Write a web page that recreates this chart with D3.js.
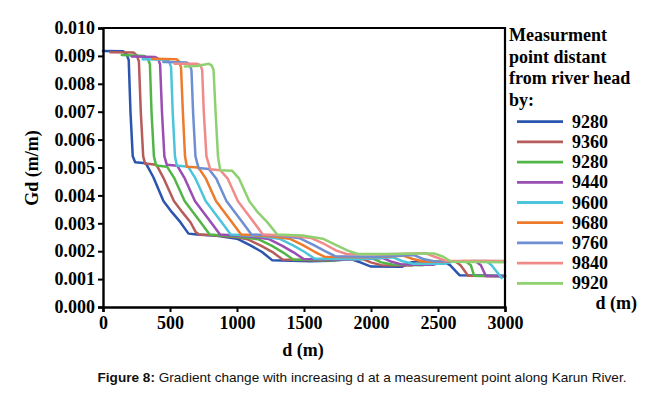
<!DOCTYPE html>
<html>
<head>
<meta charset="utf-8">
<script src="https://cdn.jsdelivr.net/npm/d3@7"></script>
<style>
  body { margin: 0; background: #fff; }
  svg { display: block; }
</style>
</head>
<body>
<div id="chart"></div>
<script>
// tick labels
var xTicks = [0, 500, 1000, 1500, 2000, 2500, 3000];
var yTicks = [0, 0.001, 0.002, 0.003, 0.004, 0.005, 0.006, 0.007, 0.008, 0.009, 0.010];

// legend names, in the order shown
var seriesNames = ["9280", "9360", "9280", "9440", "9600", "9680", "9760", "9840", "9920"];
var seriesColors = ["#2b55ae", "#b65c5b", "#52b647", "#9a4db3", "#4cc4dc", "#ee7a2b", "#6f8fd3", "#f08b89", "#8fd071"];

// [d (m), Gd (m/m)]
var s9280a = [[0,0.00918],[150,0.00917],[177,0.00905],[192,0.00885],[205,0.0070],[222,0.0054],[240,0.00519],[320,0.00515],[376,0.00465],[451,0.0038],[514,0.0034],[576,0.00305],[638,0.00263],[700,0.0026],[850,0.00255],[1000,0.00245],[1100,0.00221],[1187,0.00197],[1262,0.00168],[1550,0.00164],[1700,0.00166],[1850,0.00172],[1920,0.0016],[2000,0.00145],[2230,0.00144],[2300,0.0016],[2550,0.00161],[2590,0.0015],[2660,0.00114],[3000,0.00112]];
var s9360 = [[55,0.00913],[230,0.00912],[252,0.00902],[268,0.0088],[282,0.0070],[300,0.0054],[314,0.00514],[398,0.0051],[454,0.0046],[529,0.0038],[592,0.0034],[654,0.00303],[690,0.0027],[716,0.0026],[850,0.00256],[1000,0.0025],[1078,0.00243],[1178,0.0022],[1265,0.00197],[1340,0.0017],[1628,0.00167],[1778,0.0017],[1928,0.00174],[1998,0.0016],[2078,0.0015],[2308,0.00149],[2378,0.00164],[2628,0.00164],[2668,0.0015],[2725,0.00112],[3000,0.0011]];
var s9280b = [[140,0.00903],[310,0.009],[335,0.0089],[350,0.0087],[362,0.0070],[380,0.0054],[396,0.00507],[478,0.00503],[534,0.0046],[609,0.0038],[672,0.0034],[734,0.003],[796,0.0026],[1008,0.00252],[1158,0.00243],[1258,0.0022],[1345,0.00195],[1420,0.0017],[1708,0.00168],[1858,0.0017],[2008,0.00174],[2078,0.0016],[2158,0.00152],[2388,0.0015],[2458,0.00163],[2708,0.00163],[2745,0.0015],[2770,0.00112],[3000,0.0011]];
var s9440 = [[215,0.00898],[390,0.00896],[411,0.0089],[426,0.0087],[440,0.0070],[458,0.0054],[476,0.0051],[555,0.00506],[611,0.0046],[686,0.0038],[749,0.0034],[811,0.003],[873,0.0026],[1085,0.00253],[1235,0.00244],[1335,0.0022],[1422,0.00196],[1497,0.00172],[1785,0.00169],[1935,0.00172],[2085,0.00176],[2155,0.00162],[2235,0.00152],[2465,0.00151],[2535,0.00162],[2785,0.00162],[2820,0.0015],[2857,0.00111],[3000,0.0011]];
var s9600 = [[295,0.00888],[470,0.00886],[494,0.0088],[508,0.0086],[520,0.0070],[537,0.0054],[551,0.00507],[635,0.00503],[691,0.0046],[766,0.0038],[829,0.0034],[891,0.003],[953,0.0026],[1165,0.00254],[1315,0.00245],[1415,0.00222],[1502,0.00198],[1577,0.00174],[1865,0.00171],[2015,0.00174],[2165,0.00178],[2235,0.00164],[2315,0.00155],[2545,0.00155],[2615,0.00163],[2865,0.00163],[2900,0.0015],[2975,0.00104]];
var s9680 = [[370,0.0089],[548,0.00888],[568,0.0088],[582,0.0086],[596,0.0070],[612,0.0054],[626,0.00503],[712,0.005],[768,0.0046],[843,0.0038],[906,0.0034],[968,0.003],[1030,0.0026],[1242,0.00254],[1392,0.00245],[1492,0.00222],[1579,0.00198],[1654,0.0018],[1942,0.00178],[2092,0.0018],[2242,0.00184],[2312,0.00172],[2392,0.00163],[2622,0.00162],[2692,0.00165],[3000,0.00163]];
var s9760 = [[450,0.00878],[625,0.00876],[645,0.0087],[660,0.0085],[672,0.0070],[690,0.0054],[713,0.00498],[790,0.00495],[846,0.0046],[921,0.0038],[984,0.0034],[1046,0.003],[1108,0.0026],[1320,0.00255],[1470,0.00246],[1570,0.00223],[1657,0.002],[1732,0.00182],[2020,0.0018],[2170,0.00183],[2320,0.00186],[2390,0.00172],[2470,0.00164],[2700,0.00163],[2770,0.00165],[3000,0.00163]];
var s9840 = [[535,0.00872],[700,0.00872],[725,0.00868],[740,0.0085],[752,0.0070],[772,0.0054],[800,0.00494],[875,0.0049],[931,0.0046],[1006,0.0038],[1069,0.0034],[1131,0.003],[1193,0.0026],[1405,0.00255],[1555,0.00247],[1655,0.00225],[1742,0.00202],[1817,0.0019],[2105,0.00189],[2255,0.00191],[2405,0.00193],[2475,0.0018],[2555,0.00166],[2785,0.00165],[2855,0.00166],[3000,0.00165]];
var s9920 = [[610,0.00862],[700,0.00864],[790,0.00872],[812,0.00865],[825,0.0085],[840,0.0070],[858,0.0054],[875,0.0049],[965,0.00488],[1016,0.0046],[1091,0.0038],[1154,0.0034],[1224,0.00305],[1300,0.0026],[1490,0.00256],[1640,0.00245],[1740,0.00222],[1827,0.00202],[1902,0.0019],[2190,0.0019],[2340,0.00192],[2470,0.00192],[2540,0.0018],[2600,0.00162],[3000,0.0016]];

var seriesData = [s9280a, s9360, s9280b, s9440, s9600, s9680, s9760, s9840, s9920];

// svg sizes
var width = 651, height = 394;
var plot = {left: 103, right: 505, top: 28, bottom: 307};
var serif = "'Times New Roman', 'Liberation Serif', serif";

var svg = d3.select("#chart").append("svg")
    .attr("width", width)
    .attr("height", height);

var x = d3.scaleLinear().domain([0, 3000]).range([plot.left, plot.right]);
var y = d3.scaleLinear().domain([0, 0.010]).range([plot.bottom, plot.top]);

// lines
var line = d3.line()
    .x(function(p) { return x(p[0]); })
    .y(function(p) { return y(p[1]); });

svg.append("g").selectAll("path")
    .data(seriesData)
    .enter().append("path")
    .attr("d", line)
    .attr("fill", "none")
    .attr("stroke", function(d, i) { return seriesColors[i]; })
    .attr("stroke-width", 2.5)
    .attr("stroke-linejoin", "round")
    .attr("stroke-linecap", "round");

// frame on top and right
svg.append("path")
    .attr("d", "M" + plot.left + "," + plot.top + "H" + plot.right + "V" + plot.bottom)
    .attr("fill", "none")
    .attr("stroke", "#000")
    .attr("stroke-width", 2.2);

// axes
var xAxis = svg.append("g")
    .attr("transform", "translate(0," + plot.bottom + ")")
    .call(d3.axisBottom(x).tickValues(xTicks).tickSize(5).tickPadding(4).tickFormat(d3.format("d")));
var yAxis = svg.append("g")
    .attr("transform", "translate(" + plot.left + ",0)")
    .call(d3.axisLeft(y).tickValues(yTicks).tickSize(5).tickPadding(3).tickFormat(d3.format(".3f")));

[xAxis, yAxis].forEach(function(ax) {
    ax.select(".domain").attr("stroke-width", 2.4).attr("stroke", "#000");
    ax.selectAll(".tick line").attr("stroke-width", 2).attr("stroke", "#000");
    ax.selectAll(".tick text")
        .attr("font-family", serif)
        .attr("font-weight", "bold")
        .attr("font-size", 18)
        .attr("fill", "#000");
});

// axis titles
svg.append("text")
    .attr("x", 303).attr("y", 356)
    .attr("text-anchor", "middle")
    .attr("font-family", serif).attr("font-weight", "bold").attr("font-size", 18)
    .text("d (m)");

svg.append("text")
    .attr("transform", "translate(38,168) rotate(-90)")
    .attr("text-anchor", "middle")
    .attr("font-family", serif).attr("font-weight", "bold").attr("font-size", 18)
    .text("Gd (m/m)");

// legend
var legendTitle = ["Measurment", "point distant", "from river head", "by:"];
svg.append("g").selectAll("text")
    .data(legendTitle)
    .enter().append("text")
    .attr("x", 509)
    .attr("y", function(d, i) { return 41 + i * 21.7; })
    .attr("font-family", serif).attr("font-weight", "bold").attr("font-size", 18)
    .text(function(d) { return d; });

var legend = svg.append("g").selectAll("g")
    .data(seriesNames)
    .enter().append("g")
    .attr("transform", function(d, i) { return "translate(0," + (121.7 + i * 20.2) + ")"; });

legend.append("line")
    .attr("x1", 517).attr("x2", 563)
    .attr("stroke", function(d, i) { return seriesColors[i]; })
    .attr("stroke-width", 2.8);

legend.append("text")
    .attr("x", 572).attr("y", 6)
    .attr("font-family", serif).attr("font-weight", "bold").attr("font-size", 18)
    .text(function(d) { return d; });

svg.append("text")
    .attr("x", 637).attr("y", 309)
    .attr("text-anchor", "end")
    .attr("font-family", serif).attr("font-weight", "bold").attr("font-size", 18)
    .text("d (m)");

// caption
var caption = svg.append("text")
    .attr("x", 362).attr("y", 382)
    .attr("text-anchor", "middle")
    .attr("font-family", "Arial, 'Liberation Sans', sans-serif")
    .attr("font-size", 13.6)
    .attr("fill", "#111");
caption.append("tspan").attr("font-weight", "bold").text("Figure 8:");
caption.append("tspan").text(" Gradient change with increasing d at a measurement point along Karun River.");
</script>
</body>
</html>
